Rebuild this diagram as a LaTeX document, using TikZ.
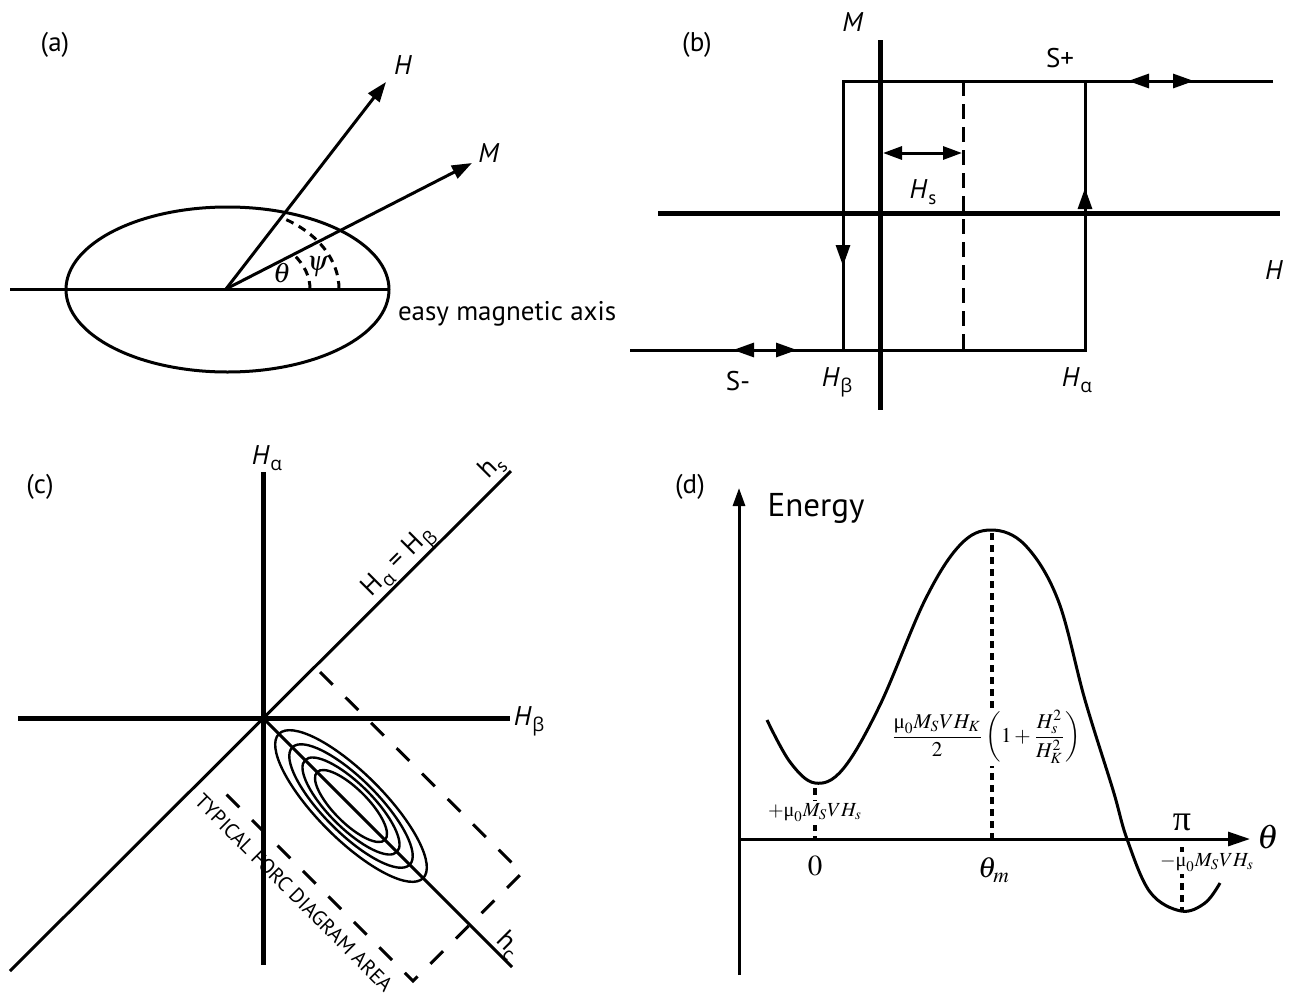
\documentclass[tikz,border=0pt]{standalone}
\usepackage{mathptmx}
\usepackage[no-math]{fontspec}
\setmainfont{PT Sans}
\newfontfamily\grk{Open Sans}
\newfontfamily\tms{Liberation Serif}
\usetikzlibrary{arrows.meta}
\newcommand\sbs[1]{\raisebox{-0.45ex}{\fontsize{9.5}{10}\selectfont #1}}
\newcommand\Hsub[1]{\textit{H}\kern0.3pt\sbs{#1}}
\newcommand\ga{{\grk α}}
\newcommand\gb{{\grk β}}
\newcommand\umu{\mbox{\tms μ}}
\tikzset{
  every node/.style={inner sep=0pt, outer sep=0pt},
  lbl/.style={font=\fontsize{13.5}{16}\selectfont},
  ln/.style={line width=1.5pt},
  ax/.style={line width=2.5pt},
  ell/.style={line width=1.2pt},
  dsha/.style={line width=1.5pt, dash pattern=on 4pt off 3pt},
  dshb/.style={line width=1.5pt, dash pattern=on 7.5pt off 4pt},
  dshc/.style={line width=1.5pt, dash pattern=on 9pt off 9pt},
  dshd/.style={line width=1.6pt, dash pattern=on 3.5pt off 2.5pt},
  tipa/.style={-{Triangle[length=10pt,width=7pt]}},
  tipb/.style={-{Triangle[length=10.5pt,width=7pt]}},
  tipe/.style={-{Triangle[length=9pt,width=6pt]}},
  tipd/.style={-{Triangle[length=11pt,width=7pt]}},
  hsarr/.style={{Triangle[length=9.5pt,width=6.5pt]}-{Triangle[length=9.5pt,width=6.5pt]}},
}
\begin{document}
\begin{tikzpicture}[x=0.5pt,y=-0.5pt]
\useasboundingbox (0,0) rectangle (1296,996);

% ---------------- (a) ----------------
\node[lbl] (la) at (55,45) {(a)};
\coordinate (aO) at (226,289);
\coordinate (aL) at (10,289);
\coordinate (aR) at (389,289);
\coordinate (aC) at (227.5,289.5);
\coordinate (aH) at (386,82);
\coordinate (aM) at (472,163);
\draw[ln] (aL) -- (aR);
\draw[ln] (aC) ellipse [x radius=161.5, y radius=82.5];
\draw[ln,tipa] (aO) -- (aH);
\draw[ln,tipa] (aO) -- (aM);
\draw[dsha] (aO) ++(84,0) arc [start angle=0, end angle=-36.5, x radius=84, y radius=58];
\draw[dsha] (aO) ++(113,0) arc [start angle=0, end angle=-60.7, x radius=113, y radius=82];
\node[lbl] (laH) at (403,65) {\textit{H}};
\node[lbl] (laM) at (489,153) {\textit{M}};
\node (lth) at (282,273) {\fontsize{14}{16}\selectfont$\theta$};
\node (lps) at (318,267) {\fontsize{14}{16}\selectfont$\psi$};
\node[lbl, anchor=west] (lea) at (398,314) {easy magnetic axis};

% ---------------- (b) ----------------
\node[lbl] (lb) at (697,45) {(b)};
\coordinate (bMt) at (880,40);
\coordinate (bMb) at (880,410);
\coordinate (bHl) at (658,213);
\coordinate (bHr) at (1280,213);
\coordinate (bTL) at (843,81);
\coordinate (bTR) at (1273,81);
\coordinate (bBL) at (843,350);
\coordinate (bRT) at (1085,81);
\coordinate (bRB) at (1085,350);
\coordinate (bBS) at (630,350);
\coordinate (bDT) at (963,81);
\coordinate (bDB) at (963,350);
\draw[ln] (bTR) -- (bTL) -- (bBL);
\draw[ln] (bBS) -- (bRB) -- (bRT);
\draw[dshb] (bDT) -- (bDB);
\draw[ax] (bMt) -- (bMb);
\draw[ax] (bHl) -- (bHr);
% arrows on the loop
\draw[ln,tipb] (843,220) -- (843,266);
\draw[ln,tipb] (1085,230) -- (1085,188);
\draw[ln,tipb] (1161,81) -- (1128,81);
\draw[ln,tipb] (1161,81) -- (1194,81);
\draw[ln,tipb] (765,350) -- (733,350);
\draw[ln,tipb] (765,350) -- (797,350);
\coordinate (bHsL) at (883,153);
\coordinate (bHsR) at (962,153);
\draw[ln,hsarr] (bHsL) -- (bHsR);
\node[lbl] (lbM) at (853,22) {\textit{M}};
\node[lbl] (lbH) at (1274,270) {\textit{H}};
\node[lbl] (lbSp) at (1060,58) {S+};
\node[lbl] (lbHs) at (923,192) {\Hsub{s}};
\node[lbl] (lbSm) at (738,381) {S-};
\node[lbl] (lbHb) at (837,382) {\Hsub{\gb}};
\node[lbl] (lbHa) at (1077,380) {\Hsub{\ga}};

% ---------------- (c) ----------------
\node[lbl] (lc) at (40,487) {(c)};
\coordinate (cO) at (263,718);
\coordinate (cVt) at (263,472);
\coordinate (cVb) at (263,965);
\coordinate (cHl) at (18,718);
\coordinate (cHr) at (510,718);
\coordinate (cDt) at (511,471);
\coordinate (cDb) at (10,971);
\coordinate (cAe) at (512,967);
\coordinate (cE) at (351,806);
\draw[ln] (cDb) -- (cDt);
\draw[ln] (cO) -- (cAe);
\draw[ax] (cVt) -- (cVb);
\draw[ax] (cHl) -- (cHr);
\foreach \a/\b in {102/33, 83/27, 65/22, 48/17}
  \draw[ell, rotate around={-45:(cE)}] (cE) ellipse [x radius=\a, y radius=\b];
\coordinate (cR1) at (320,672);
\coordinate (cR2) at (522,873);
\coordinate (cR3) at (413,981);
\coordinate (cR4) at (215,783);
\draw[dshc] (cR1) -- (cR2) -- (cR3) -- (cR4);
\node[lbl] (lcHa) at (267,458) {\Hsub{\ga}};
\node[lbl] (lcHb) at (529,721) {\Hsub{\gb}};
\node[lbl, rotate=45] (lchs) at (492,467) {h\sbs{s}};
\node[lbl, rotate=-45] (lchc) at (508,945) {h\sbs{c}};
\node[lbl, rotate=45] (lceq) at (400,563) {H\kern0.3pt\sbs{\ga} = H\kern0.3pt\sbs{\gb}};
\node[rotate=-45, font=\fontsize{10.3}{12}\selectfont] (lcfa) at (294,893) {TYPICAL FORC DIAGRAM AREA};

% ---------------- (d) ----------------
\node[lbl] (ld) at (690,487) {(d)};
\coordinate (dO) at (739,839);
\coordinate (dEb) at (739,975);
\coordinate (dEt) at (739,488);
\coordinate (dTr) at (1250,839);
\draw[ln,tipe] (dEb) -- (dEt);
\draw[ln,tipd] (dO) -- (dTr);
\node[font=\fontsize{16.5}{18}\selectfont] (ldE) at (816,508) {Energy};
\draw[ln] plot[smooth, tension=0.6] coordinates {(767,720) (790,762) (815,783) (843,769) (880,705) (925,600) (960,545) (991,530) (1025,545) (1058,600) (1085,700) (1113,790) (1127,839) (1150,892) (1181,911) (1205,903) (1220,883)};
\coordinate (d0a) at (815,788);
\coordinate (d0b) at (815,839);
\coordinate (dma) at (992,533);
\coordinate (dmb) at (992,839);
\coordinate (dpa) at (1182,847);
\coordinate (dpb) at (1182,911);
\draw[dshd] (d0a) -- (d0b);
\draw[dshd] (dma) -- (dmb);
\draw[dshd] (dpa) -- (dpb);
\node[fill=white, inner sep=1.5pt, font=\fontsize{10}{12}\selectfont] (ldp) at (815,813) {$+\umu_0 M_S V H_s$};
\node[fill=white, inner sep=1pt, font=\fontsize{10.5}{12}\selectfont] (ldf) at (986,737) {$\displaystyle\frac{\umu_0 M_S V H_K}{2}\left(1+\frac{H_s^2}{H_K^2}\right)$};
\node[fill=white, inner sep=1pt, font=\fontsize{10}{12}\selectfont] (ldm) at (1207,863) {$-\umu_0 M_S V H_s$};
\node[font=\fontsize{14.5}{16}\selectfont] (ld0) at (815,866) {$0$};
\node[font=\fontsize{14.5}{16}\selectfont] (ldtm) at (994,870) {$\theta_m$};
\node[font=\fontsize{18}{20}\selectfont] (ldpi) at (1182,822) {\tms π};
\node[font=\fontsize{17}{19}\selectfont] (ldth) at (1268,837) {$\theta$};
\end{tikzpicture}
\end{document}
